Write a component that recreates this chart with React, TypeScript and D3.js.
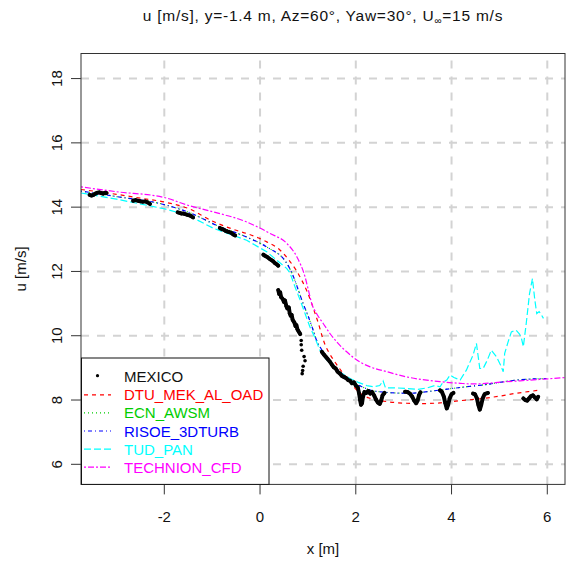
import React from "react";
import * as d3 from "d3";

const W = 566;
const H = 562;

const xTicks = [-2, 0, 2, 4, 6];
const yTicks = [6, 8, 10, 12, 14, 16, 18];

const seriesNames = ["MEXICO", "DTU_MEK_AL_OAD", "ECN_AWSM", "RISOE_3DTURB", "TUD_PAN", "TECHNION_CFD"];
const seriesColors = ["#000000", "#ff0000", "#00cd00", "#0000ff", "#00ffff", "#ff00ff"];
const seriesDash = ["", "4,4", "1,3", "1,3,4,3", "7,3", "2,2,6,2"];

type P = [number, number];

const dtu: P[] = [
  [-3.74, 14.55], [-3.0, 14.4], [-2.5, 14.28], [-2.0, 14.16], [-1.5, 13.96], [-1.0, 13.57],
  [-0.5, 13.28], [-0.28, 13.18], [0.0, 13.02], [0.14, 12.92], [0.42, 12.66], [0.63, 12.3],
  [0.77, 12.0], [0.87, 11.73], [0.97, 11.42], [1.08, 11.0], [1.15, 10.69], [1.22, 10.38],
  [1.29, 10.02], [1.36, 9.71], [1.43, 9.5], [1.53, 9.26], [1.7, 8.9], [1.9, 8.52], [2.09, 8.21],
  [2.3, 8.05], [2.65, 7.95], [3.06, 7.9], [3.4, 7.89], [3.76, 7.91], [4.18, 7.98], [4.66, 8.05],
  [5.0, 8.12], [5.35, 8.21], [5.6, 8.26], [5.85, 8.31],
];

const ecn: P[] = [
  [-3.74, 14.5], [-3.0, 14.33], [-2.0, 14.08], [-1.51, 13.85], [-0.84, 13.39], [-0.28, 13.07],
  [0.14, 12.76], [0.56, 12.25], [0.7, 11.83], [0.8, 11.42], [0.9, 11.0], [1.01, 10.59],
  [1.11, 10.17], [1.18, 9.86], [1.27, 9.61], [1.4, 9.3], [1.6, 8.98], [1.88, 8.62], [2.23, 8.35],
  [2.37, 8.28], [3.06, 8.21], [3.76, 8.31], [4.18, 8.39], [4.66, 8.47], [5.35, 8.62], [5.98, 8.67],
];

const risoe: P[] = [
  [-3.74, 14.5], [-3.0, 14.33], [-2.0, 14.08], [-1.51, 13.85], [-0.84, 13.39], [-0.28, 13.07],
  [0.14, 12.76], [0.56, 12.25], [0.7, 11.83], [0.8, 11.42], [0.9, 11.0], [1.01, 10.59],
  [1.11, 10.17], [1.18, 9.86], [1.27, 9.61], [1.4, 9.3], [1.6, 8.98], [1.88, 8.62], [2.23, 8.35],
  [2.37, 8.28], [3.06, 8.21], [3.76, 8.31], [4.18, 8.39], [4.66, 8.47], [5.35, 8.62], [5.98, 8.67],
];

const tud: P[] = [
  [-3.74, 14.44], [-3.0, 14.25], [-2.0, 13.95], [-1.51, 13.75], [-0.97, 13.34], [-0.28, 12.97],
  [0.14, 12.61], [0.56, 12.09], [0.63, 11.94], [0.73, 11.52], [0.84, 11.1], [0.94, 10.69],
  [1.04, 10.28], [1.15, 9.92], [1.25, 9.55], [1.36, 9.3], [1.6, 8.93], [1.88, 8.67], [2.05, 8.55],
  [2.23, 8.45], [2.37, 8.41], [2.5, 8.45], [2.57, 8.6], [2.62, 8.38], [2.8, 8.38], [3.06, 8.36],
  [3.3, 8.33], [3.5, 8.38], [3.65, 8.45], [3.76, 8.41], [3.82, 8.55], [3.9, 8.62], [3.97, 8.78],
  [4.05, 8.7], [4.18, 8.62], [4.31, 8.93], [4.45, 9.4], [4.52, 9.76], [4.59, 8.98], [4.66, 8.98],
  [4.75, 9.25], [4.83, 9.55], [4.94, 9.34], [5.02, 9.1], [5.08, 8.88], [5.11, 9.45], [5.18, 9.8],
  [5.25, 10.12], [5.35, 10.17], [5.42, 10.05], [5.46, 9.92], [5.5, 9.66], [5.56, 10.38],
  [5.63, 11.32], [5.69, 11.78], [5.74, 11.11], [5.78, 10.69], [5.83, 10.75], [5.88, 10.64],
  [5.92, 10.54],
];

const technion: P[] = [
  [-3.74, 14.63], [-3.0, 14.48], [-2.0, 14.3], [-1.51, 14.06], [-0.97, 13.85], [-0.28, 13.54],
  [0.21, 13.18], [0.56, 12.87], [0.77, 12.45], [0.94, 11.83], [1.01, 11.42], [1.08, 11.0],
  [1.18, 10.69], [1.32, 10.38], [1.46, 10.07], [1.6, 9.81], [1.81, 9.5], [2.09, 9.18],
  [2.3, 9.03], [2.65, 8.88], [3.06, 8.72], [3.76, 8.57], [4.18, 8.52], [4.45, 8.5],
  [5.15, 8.57], [5.85, 8.64], [6.37, 8.7],
];

const mexico: P[][] = [
  [[-3.56, 14.38], [-3.52, 14.36], [-3.48, 14.38], [-3.44, 14.42], [-3.4, 14.45], [-3.36, 14.46],
   [-3.32, 14.44], [-3.28, 14.42], [-3.24, 14.45], [-3.21, 14.44]],
  [[-2.65, 14.2], [-2.6, 14.22], [-2.55, 14.2], [-2.5, 14.18], [-2.45, 14.17], [-2.4, 14.18],
   [-2.35, 14.15], [-2.3, 14.1]],
  [[-1.72, 13.84], [-1.68, 13.82], [-1.64, 13.8], [-1.6, 13.8], [-1.56, 13.78], [-1.52, 13.76],
   [-1.48, 13.75], [-1.44, 13.72], [-1.4, 13.68]],
  [[-0.84, 13.35], [-0.8, 13.32], [-0.76, 13.3], [-0.72, 13.26], [-0.68, 13.24], [-0.64, 13.22],
   [-0.6, 13.2], [-0.56, 13.15], [-0.52, 13.12]],
  [[0.07, 12.52], [0.11, 12.48], [0.15, 12.45], [0.19, 12.4], [0.23, 12.36], [0.27, 12.32],
   [0.31, 12.26], [0.35, 12.22], [0.38, 12.18]],
  [[0.38, 11.42], [0.4, 11.3], [0.42, 11.35], [0.44, 11.2], [0.47, 11.15], [0.5, 11.05],
   [0.52, 11.1], [0.55, 10.92], [0.57, 10.85], [0.6, 10.88], [0.62, 10.7], [0.64, 10.62],
   [0.66, 10.65], [0.68, 10.5], [0.7, 10.45], [0.72, 10.4], [0.74, 10.3], [0.76, 10.33],
   [0.78, 10.2], [0.8, 10.15], [0.82, 10.1], [0.84, 10.05]],
  [[0.86, 9.85]], [[0.86, 9.72]], [[0.87, 9.55]], [[0.92, 9.35]], [[0.94, 9.22]],
  [[0.9, 9.05]], [[0.89, 8.92]], [[0.88, 8.82]],
  [[1.29, 9.5], [1.33, 9.42], [1.37, 9.35], [1.41, 9.28], [1.46, 9.19], [1.5, 9.1], [1.54, 9.02],
   [1.58, 8.98], [1.62, 8.88], [1.67, 8.82], [1.71, 8.75], [1.75, 8.72], [1.8, 8.68], [1.84, 8.62],
   [1.88, 8.6], [1.92, 8.52], [1.96, 8.55], [2.0, 8.45], [2.04, 8.4], [2.07, 8.2], [2.09, 8.0],
   [2.11, 7.85], [2.13, 7.9], [2.15, 8.1], [2.18, 8.25], [2.22, 8.22], [2.26, 8.28], [2.3, 8.2],
   [2.34, 8.25], [2.38, 8.15], [2.42, 8.02], [2.46, 7.92], [2.5, 7.88], [2.53, 7.98], [2.56, 8.15],
   [2.6, 8.22]],
  [[3.03, 8.26], [3.08, 8.25], [3.13, 8.2], [3.18, 8.1], [3.22, 7.98], [3.26, 7.9], [3.29, 7.98],
   [3.32, 8.15], [3.35, 8.24]],
  [[3.76, 8.3], [3.8, 8.25], [3.84, 8.1], [3.87, 7.9], [3.9, 7.74], [3.93, 7.85], [3.96, 8.05],
   [4.0, 8.18], [4.04, 8.22]],
  [[4.45, 8.2], [4.49, 8.18], [4.53, 8.05], [4.56, 7.85], [4.59, 7.7], [4.62, 7.85], [4.65, 8.05],
   [4.69, 8.18], [4.76, 8.22]],
  [[5.5, 8.05], [5.54, 8.0], [5.58, 7.98], [5.62, 8.05], [5.66, 8.12], [5.7, 8.15], [5.74, 8.08],
   [5.78, 8.02], [5.81, 8.1]],
];

const modelSeries = [dtu, ecn, risoe, tud, technion];

const FONT = "'Liberation Sans', Arial, Helvetica, sans-serif";

export default function App() {
  const left = 81, right = 565, top = 53.5, bottom = 484.4;
  const x = d3.scaleLinear().domain([-3.74, 6.37]).range([left, right]);
  const y = d3.scaleLinear().domain([5.375, 18.78]).range([bottom, top]);

  const smooth = d3.line<P>().x((d) => x(d[0])).y((d) => y(d[1])).curve(d3.curveMonotoneX);
  const straight = d3.line<P>().x((d) => x(d[0])).y((d) => y(d[1]));

  const legendX = 81.5, legendY = 358, legendW = 187.5, legendH = bottom - 358;
  const rowY = (i: number) => 376.7 + i * 18.1;

  return (
    <svg width={W} height={H} style={{ position: "absolute", left: 0, top: 0, background: "#fff" }} fontFamily={FONT}>
      <defs>
        <clipPath id="plotclip">
          <rect x={left} y={top} width={right - left} height={bottom - top} />
        </clipPath>
      </defs>
      <rect x={0} y={0} width={W} height={H} fill="#fff" />
      {/* grid */}
      <g stroke="#d3d3d3" strokeWidth={2} strokeDasharray="8,8">
        {xTicks.map((t) => (
          <line key={"gx" + t} x1={x(t)} x2={x(t)} y1={bottom} y2={top} />
        ))}
        {yTicks.map((t) => (
          <line key={"gy" + t} x1={left} x2={right} y1={y(t)} y2={y(t)} />
        ))}
      </g>
      {/* model lines */}
      <g clipPath="url(#plotclip)" fill="none" strokeWidth={1.2}>
        {modelSeries.map((s, i) => (
          <path
            key={"m" + i}
            d={(i === 3 ? straight(s) : smooth(s)) || ""}
            stroke={seriesColors[i + 1]}
            strokeDasharray={seriesDash[i + 1]}
          />
        ))}
      </g>
      {/* measurements */}
      <g clipPath="url(#plotclip)">
        {mexico.map((seg, si) => (
          <g key={"s" + si}>
            {seg.length > 1 && (
              <path d={straight(seg) || ""} fill="none" stroke="#000" strokeWidth={4} strokeLinejoin="round" strokeLinecap="round" />
            )}
            {seg.map((p, pi) => (
              <circle key={pi} cx={x(p[0])} cy={y(p[1])} r={1.8} fill="#000" />
            ))}
          </g>
        ))}
      </g>
      {/* box */}
      <rect x={left} y={top} width={right - left} height={bottom - top} fill="none" stroke="#333" strokeWidth={1} />
      {/* x axis */}
      <g>
        {xTicks.map((t) => (
          <g key={"xt" + t}>
            <line x1={x(t)} x2={x(t)} y1={bottom} y2={bottom + 10} stroke="#333" />
            <text x={x(t)} y={522} textAnchor="middle" fontSize={15} fill="#111">
              {t}
            </text>
          </g>
        ))}
        <text x={(left + right) / 2} y={554} textAnchor="middle" fontSize={15} fill="#111">
          x [m]
        </text>
      </g>
      {/* y axis */}
      <g>
        {yTicks.map((t) => (
          <g key={"yt" + t}>
            <line x1={left - 10} x2={left} y1={y(t)} y2={y(t)} stroke="#333" />
            <text transform={`translate(62,${y(t)}) rotate(-90)`} textAnchor="middle" fontSize={15} fill="#111">
              {t}
            </text>
          </g>
        ))}
        <text transform={`translate(26,${(top + bottom) / 2}) rotate(-90)`} textAnchor="middle" fontSize={15} fill="#111">
          u [m/s]
        </text>
      </g>
      {/* title */}
      <text x={(left + right) / 2} y={21} textAnchor="middle" fontSize={15.5} fill="#111" letterSpacing={0.75}>
        u [m/s], y=-1.4 m, Az=60°, Yaw=30°, U
        <tspan fontSize={10} dy={3}>∞</tspan>
        <tspan dy={-3}>=15 m/s</tspan>
      </text>
      {/* legend */}
      <g>
        <rect x={legendX} y={legendY} width={legendW} height={legendH} fill="#fff" stroke="#111" strokeWidth={1} />
        {seriesNames.map((name, i) => (
          <g key={"lg" + i}>
            {i === 0 ? (
              <circle cx={97.5} cy={rowY(i) - 1} r={1.6} fill="#000" />
            ) : (
              <line x1={84} x2={111} y1={rowY(i)} y2={rowY(i)} stroke={seriesColors[i]} strokeWidth={1.2} strokeDasharray={seriesDash[i]} />
            )}
            <text x={124} y={rowY(i) + 5.5} fontSize={15} fill={i === 0 ? "#111" : seriesColors[i]}>
              {name}
            </text>
          </g>
        ))}
      </g>
    </svg>
  );
}
